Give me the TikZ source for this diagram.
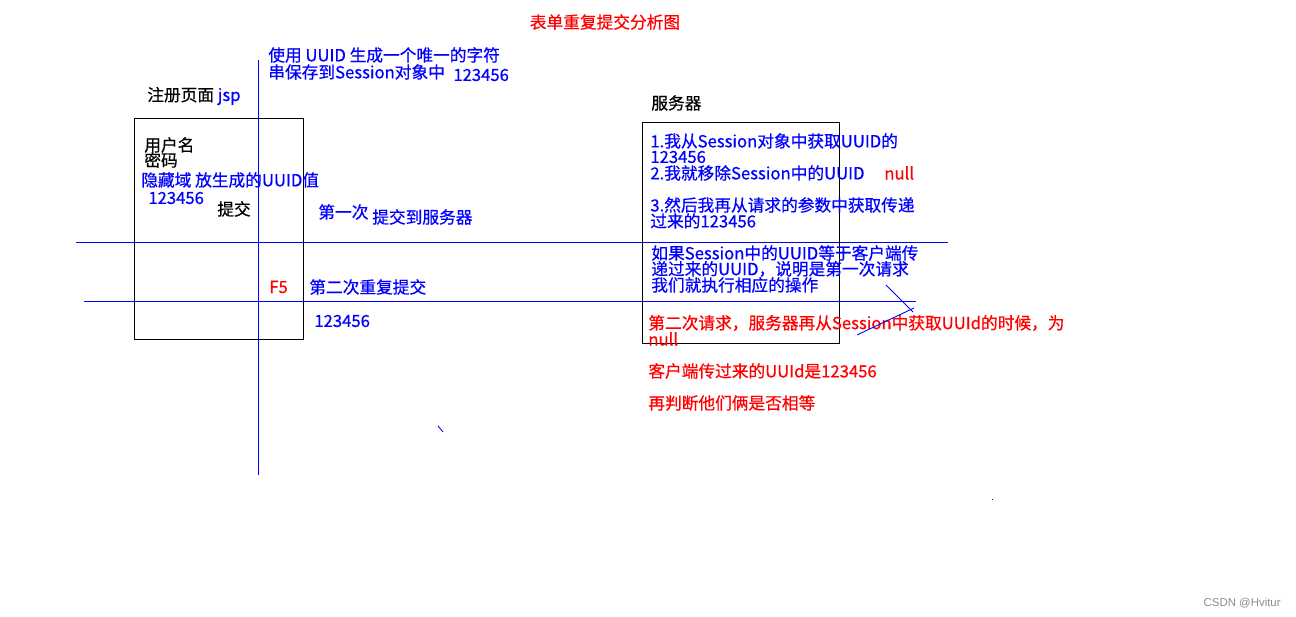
\documentclass[tikz,border=0pt]{standalone}
\usepackage{fontspec}
\setmainfont{Noto Sans CJK SC}[FakeBold=0.6]
\setsansfont{Liberation Sans}
\definecolor{penblue}{RGB}{0,0,255}
\definecolor{penred}{RGB}{255,0,0}

\def\formbox{(134,118) rectangle (303,339)}
\def\serverbox{(642,122) rectangle (839,343)}

\begin{document}
\begin{tikzpicture}[x=0.02cm,y=-0.02cm,
    every node/.style={inner sep=0pt, anchor=west, font=\fontsize{9.5}{10}\selectfont},
    note/.style={text=penblue},
    warn/.style={text=penred},
    wire/.style={draw=penblue, line width=0.5pt}]
  \useasboundingbox (0,0) rectangle (1296,617);
  \node[warn, anchor=center] (title) at (605,22) {表单重复提交分析图};

  % the client side
  \draw[line width=0.55pt] \formbox;
  \draw[wire] (258,60) -- (258,475);
  \node[note] (uuidA) at (268,55) {使用 UUID 生成一个唯一的字符};
  \node[note] (uuidB) at (268,72) {串保存到Session对象中};
  \node[note] (uuidC) at (453,75) {123456};
  \node (page) at (147,96) {注册页面 \textcolor{penblue}{jsp}};
  \node (user) at (144,145) {用户名};
  \node (pwd) at (144,160) {密码};
  \node[note] (hidden) at (141,180) {隐藏域 放生成的UUID值};
  \node[note] (token) at (148,198) {123456};
  \node (submit) at (217,209) {提交};
  \node[note] (firstA) at (318,212) {第一次};
  \node[note] (firstB) at (372,217) {提交到服务器};

  % the two requests
  \draw[wire] (76,242) -- (948,242);
  \draw[wire] (84,301) -- (916,301);
  \node[warn] (fkey) at (269,287) {F5};
  \node[note] (second) at (309,287) {第二次重复提交};
  \node[note] (token2) at (314,321) {123456};

  % the server side
  \draw[line width=0.55pt] \serverbox;
  \node (server) at (651,103) {服务器};
  \node[note] (stepA) at (650,141) {1.我从Session对象中获取UUID的};
  \node[note] (stepB) at (650,157) {123456};
  \node[note] (stepC) at (650,173) {2.我就移除Session中的UUID};
  \node[warn] (nul) at (884,173) {null};
  \node[note] (stepD) at (650,205) {3.然后我再从请求的参数中获取传递};
  \node[note] (stepE) at (650,221) {过来的123456};
  \node[note] (cmpA) at (651,253) {如果Session中的UUID等于客户端传};
  \node[note] (cmpB) at (651,269) {递过来的UUID，说明是第一次请求};
  \node[note] (cmpC) at (651,285) {我们就执行相应的操作};
  \node[warn] (redA) at (648,323) {第二次请求，服务器再从Session中获取UUId的时候，为};
  \node[warn] (redB) at (648,339) {null};
  \node[warn] (redC) at (648,371) {客户端传过来的UUId是123456};
  \node[warn] (redD) at (648,403) {再判断他们俩是否相等};

  % stray pen strokes
  \draw[wire] (886,285) -- (913,312);
  \draw[wire] (857,335) -- (914,308);
  \draw[wire] (438,426) -- (443,432);
  \fill[penblue] (992,499) rectangle (993,500);

  \node[anchor=east, text=black!45, font=\sffamily\fontsize{6.5}{7}\selectfont] (mark) at (1281,603) {CSDN @Hvitur};
\end{tikzpicture}
\end{document}
